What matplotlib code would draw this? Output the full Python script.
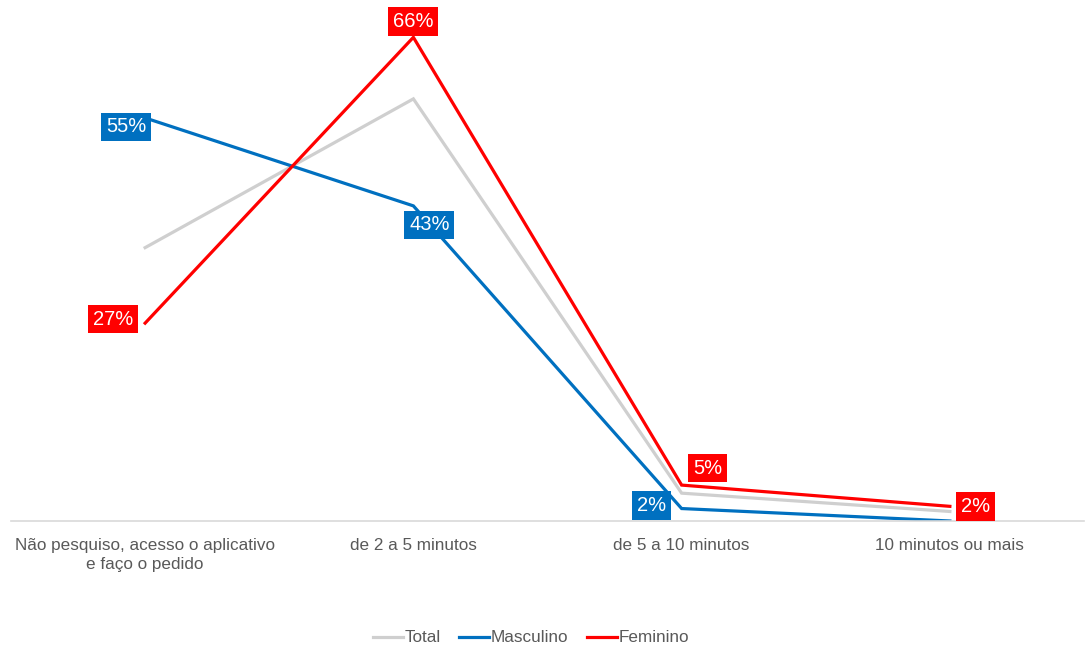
import matplotlib
matplotlib.use("Agg")
import matplotlib.pyplot as plt

plt.rcParams['font.family'] = ['Liberation Sans', 'DejaVu Sans']

categories = ["Não pesquiso, acesso o aplicativo\ne faço o pedido",
              "de 2 a 5 minutos",
              "de 5 a 10 minutos",
              "10 minutos ou mais"]
total = [0.373, 0.576, 0.038, 0.013]
masculino = [0.55, 0.43, 0.017, 0.0]
feminino = [0.27, 0.66, 0.049, 0.02]

# label offsets (pixels) for the annotated values; None = no label
masc_offsets = [(-19, -9), (16, -19), (-30, 3), None]
fem_offsets = [(-32, 4), (0, 16), (26, 17), (26, 0)]

c_total = "#CFCFCF"
c_masc = "#0070C0"
c_fem = "#FF0000"

fig = plt.figure(figsize=(10.85, 6.5), dpi=100)
ax = fig.add_axes([11 / 1085, 1 - 521 / 650, 1073 / 1085, (521 - 8) / 650])

x = list(range(len(categories)))
ax.plot(x, total, color=c_total, lw=2.3, label="Total", solid_joinstyle="miter")
ax.plot(x, masculino, color=c_masc, lw=2.3, label="Masculino", solid_joinstyle="miter")
ax.plot(x, feminino, color=c_fem, lw=2.3, label="Feminino", solid_joinstyle="miter")

ax.set_xlim(-0.5, len(categories) - 0.5)
ax.set_ylim(0, 0.70)

def annotate(values, offsets, color):
    for xi, v, off in zip(x, values, offsets):
        if off is None:
            continue
        ax.annotate(f"{v * 100:.0f}%", (xi, v), xytext=off, textcoords="offset pixels",
                    ha="center", va="center", color="white", fontsize=14.5,
                    bbox=dict(boxstyle="square,pad=0.24", fc=color, ec="none"),
                    zorder=5)

annotate(masculino, masc_offsets, c_masc)
annotate(feminino, fem_offsets, c_fem)

for s in ["top", "right", "left"]:
    ax.spines[s].set_visible(False)
ax.spines["bottom"].set_color("#D9D9D9")
ax.spines["bottom"].set_linewidth(1.2)
ax.set_yticks([])
ax.set_xticks(x)
ax.set_xticklabels(categories, fontsize=12.3, color="#595959", linespacing=1.3)
ax.tick_params(axis="x", length=0, pad=12.5)

fig.legend(loc="center", bbox_to_anchor=(531 / 1085, 1 - 638 / 650), ncol=3, frameon=False,
           fontsize=12.3, labelcolor="#595959", handlelength=1.75, handletextpad=0.1,
           columnspacing=1.1)

fig.savefig("out.png", dpi=100)
